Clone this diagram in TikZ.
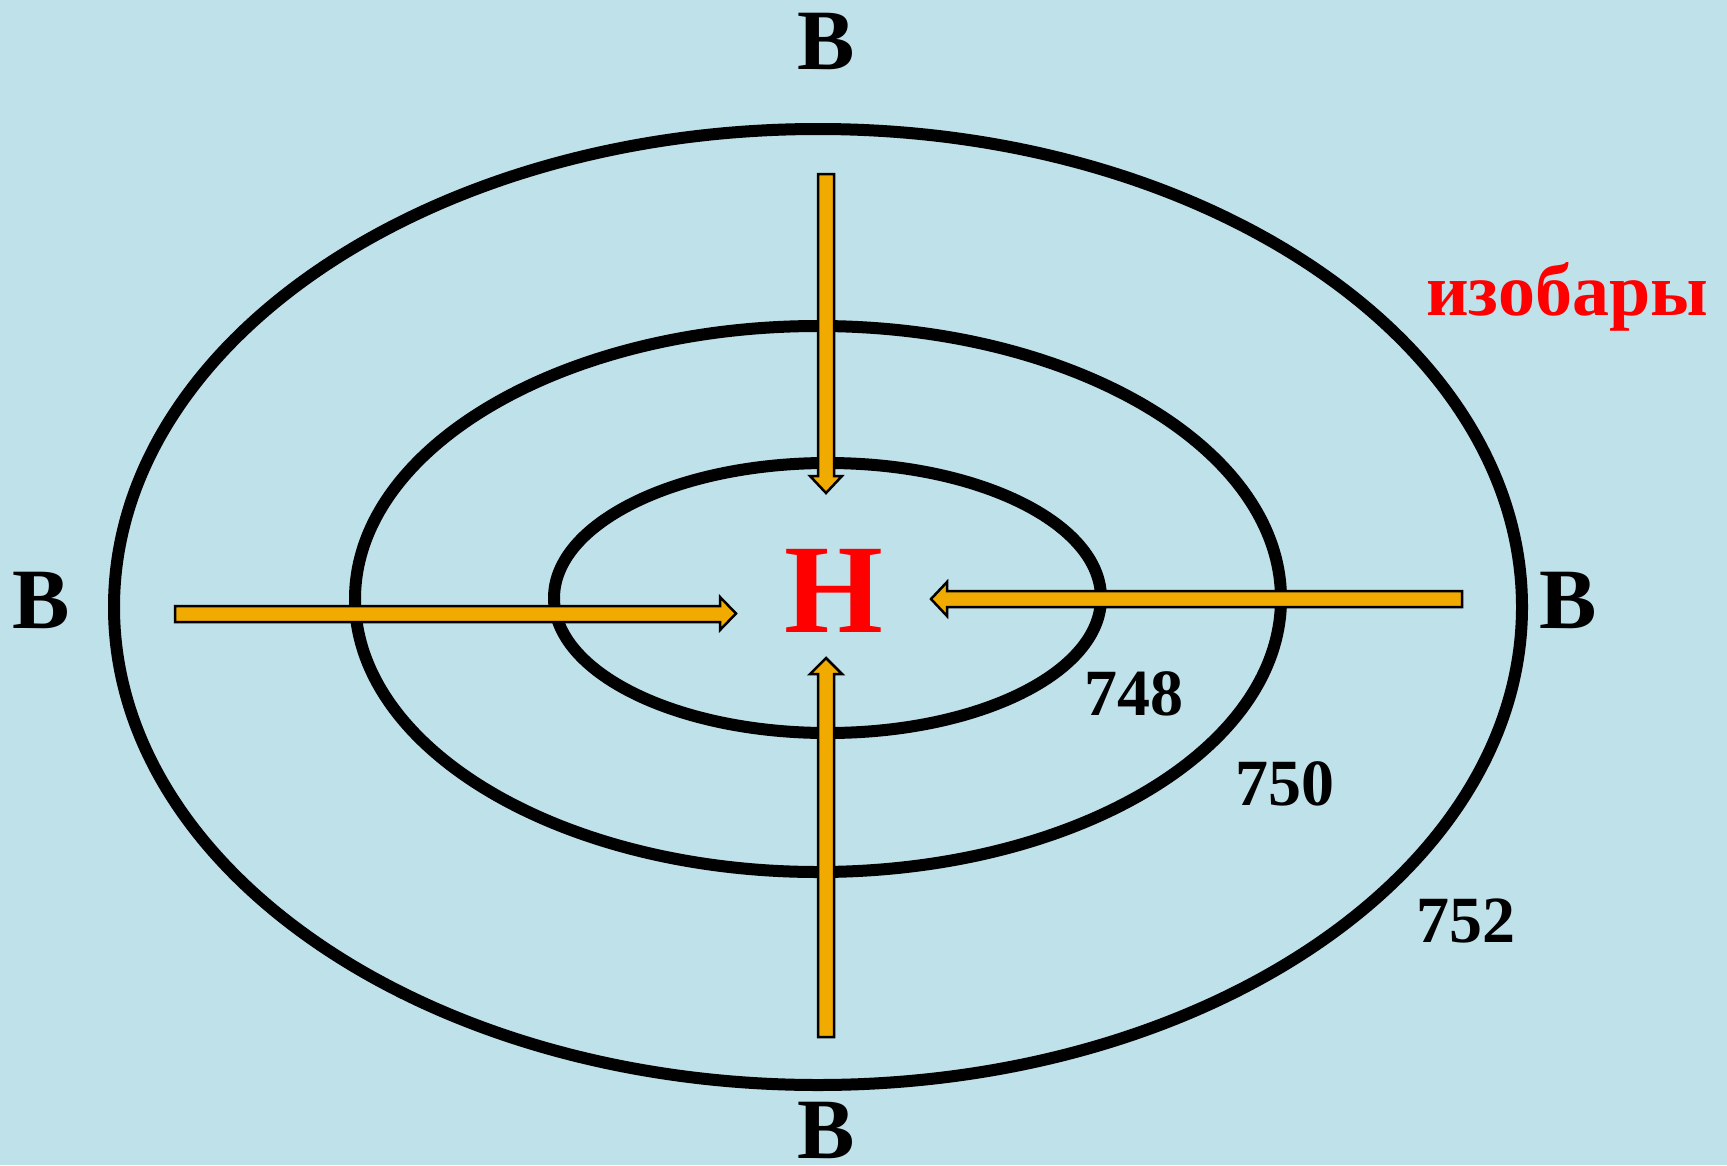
\documentclass[tikz,border=0pt]{standalone}
\usepackage{fontspec}
\setmainfont{Liberation Serif}[BoldFont={Liberation Serif Bold}]
\definecolor{bgblue}{RGB}{191,225,234}
\definecolor{arrorange}{RGB}{240,170,0}
\definecolor{labred}{RGB}{255,0,0}
\begin{document}
\begin{tikzpicture}[x=1pt,y=-1pt,
  isobar/.style={draw=black,line width=12pt},
  blockarrow/.style={draw=black,line width=2.5pt,fill=arrorange,line join=miter},
  bigB/.style={inner sep=0pt,outer sep=0pt,anchor=base,font=\fontsize{86}{86}\selectfont\bfseries},
  numlab/.style={inner sep=0pt,outer sep=0pt,anchor=base,font=\fontsize{66}{66}\selectfont\bfseries}]
\fill[bgblue] (0,0) rectangle (1727,1165);
\useasboundingbox (0,0) rectangle (1727,1165);
% isobars
\draw[isobar] (818,607) ellipse [x radius=704, y radius=478];
\draw[isobar] (818,599) ellipse [x radius=463, y radius=273];
\draw[isobar] (827.5,598) ellipse [x radius=273.5, y radius=135];
% arrows
\coordinate (ttail) at (826,174);
\coordinate (ttip) at (826,493);
\draw[blockarrow] (818,174) -- (834,174) -- (834,476) -- (842,476) -- (ttip) -- (810,476) -- (818,476) -- cycle;
\coordinate (btail) at (826,1037);
\coordinate (btip) at (826,658);
\draw[blockarrow] (818,1037) -- (834,1037) -- (834,674) -- (842,674) -- (btip) -- (810,674) -- (818,674) -- cycle;
\coordinate (ltail) at (175,614);
\coordinate (ltip) at (736,613.5);
\draw[blockarrow] (175,606) -- (720,606) -- (720,597) -- (ltip) -- (720,630) -- (720,622) -- (175,622) -- cycle;
\coordinate (rtail) at (1462,599);
\coordinate (rtip) at (931,599);
\draw[blockarrow] (1462,591) -- (947,591) -- (947,582) -- (rtip) -- (947,616) -- (947,607) -- (1462,607) -- cycle;
% labels
\node[bigB] (Btop) at (826,69) {В};
\node[bigB] (Bbot) at (826,1158) {В};
\node[bigB] (Bleft) at (41,628) {В};
\node[bigB] (Bright) at (1568,628) {В};
\node[inner sep=0pt,outer sep=0pt,anchor=base,text=labred,font=\fontsize{127}{127}\selectfont\bfseries] (H) at (833.5,632) {Н};
\node[numlab] (n748) at (1134,715) {748};
\node[numlab] (n750) at (1285,805) {750};
\node[numlab] (n752) at (1466,942) {752};
\node[inner sep=0pt,outer sep=0pt,anchor=base,text=labred,font=\fontsize{74}{74}\selectfont\bfseries] (iso) at (1567,315) {изобары};
\end{tikzpicture}
\end{document}
